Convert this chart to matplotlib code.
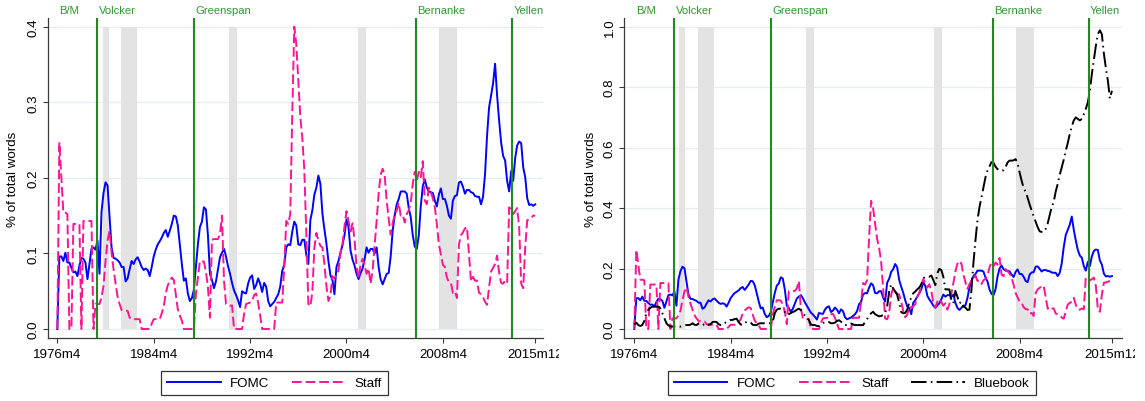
import numpy as np
import matplotlib
matplotlib.use("Agg")
import matplotlib.pyplot as plt
from matplotlib.lines import Line2D
from matplotlib.transforms import Bbox, TransformedBbox

plt.rcParams['font.family'] = ['Liberation Sans', 'DejaVu Sans']

# ---------------- data (Stata monthly dates, sampled every 2 months) ----------------
first_month, last_month, sample_step = "1976m4", "2015m12", 2

fomc_left = [
    0.000, 0.096, 0.096, 0.090, 0.101, 0.088, 0.088, 0.081, 0.075, 0.076,
    0.070, 0.084, 0.094, 0.093, 0.088, 0.066, 0.086, 0.106, 0.108, 0.105,
    0.117, 0.073, 0.155, 0.180, 0.194, 0.190, 0.148, 0.108, 0.094, 0.093,
    0.091, 0.088, 0.082, 0.082, 0.063, 0.067, 0.079, 0.090, 0.086, 0.092,
    0.095, 0.089, 0.082, 0.078, 0.080, 0.078, 0.070, 0.082, 0.096, 0.105,
    0.112, 0.116, 0.121, 0.127, 0.131, 0.122, 0.130, 0.139, 0.150, 0.149,
    0.137, 0.112, 0.086, 0.064, 0.067, 0.047, 0.037, 0.041, 0.052, 0.082,
    0.112, 0.135, 0.142, 0.161, 0.158, 0.124, 0.073, 0.065, 0.054, 0.063,
    0.079, 0.095, 0.101, 0.106, 0.096, 0.083, 0.073, 0.061, 0.051, 0.045,
    0.038, 0.029, 0.050, 0.048, 0.047, 0.060, 0.068, 0.071, 0.053, 0.058,
    0.067, 0.060, 0.049, 0.061, 0.056, 0.037, 0.030, 0.033, 0.036, 0.041,
    0.046, 0.056, 0.077, 0.085, 0.108, 0.112, 0.111, 0.129, 0.142, 0.137,
    0.112, 0.111, 0.118, 0.118, 0.098, 0.086, 0.144, 0.157, 0.178, 0.187,
    0.203, 0.192, 0.153, 0.132, 0.113, 0.090, 0.071, 0.065, 0.046, 0.082,
    0.090, 0.101, 0.111, 0.124, 0.145, 0.135, 0.104, 0.092, 0.084, 0.073,
    0.066, 0.074, 0.080, 0.092, 0.108, 0.101, 0.106, 0.106, 0.100, 0.108,
    0.082, 0.066, 0.059, 0.066, 0.073, 0.074, 0.096, 0.130, 0.150, 0.165,
    0.172, 0.182, 0.182, 0.182, 0.179, 0.160, 0.148, 0.124, 0.109, 0.106,
    0.124, 0.163, 0.189, 0.198, 0.187, 0.182, 0.181, 0.180, 0.170, 0.162,
    0.178, 0.186, 0.172, 0.172, 0.163, 0.150, 0.146, 0.170, 0.176, 0.177,
    0.194, 0.195, 0.188, 0.179, 0.184, 0.184, 0.181, 0.180, 0.176, 0.175,
    0.175, 0.165, 0.175, 0.205, 0.256, 0.293, 0.309, 0.325, 0.351, 0.309,
    0.276, 0.247, 0.229, 0.223, 0.196, 0.182, 0.209, 0.196, 0.226, 0.243,
    0.248, 0.246, 0.214, 0.201, 0.173, 0.164, 0.165, 0.163, 0.165,
]

staff_left = [
    0.000, 0.247, 0.200, 0.154, 0.154, 0.152, 0.000, 0.000, 0.139, 0.139,
    0.139, 0.139, 0.000, 0.143, 0.143, 0.143, 0.143, 0.143, 0.000, 0.033,
    0.033, 0.033, 0.042, 0.057, 0.090, 0.117, 0.130, 0.101, 0.079, 0.060,
    0.043, 0.033, 0.025, 0.024, 0.024, 0.024, 0.015, 0.013, 0.013, 0.013,
    0.013, 0.013, 0.000, 0.000, 0.000, 0.000, 0.000, 0.007, 0.013, 0.013,
    0.013, 0.013, 0.021, 0.030, 0.047, 0.058, 0.063, 0.068, 0.065, 0.045,
    0.026, 0.018, 0.011, 0.000, 0.000, 0.000, 0.000, 0.000, 0.000, 0.046,
    0.068, 0.090, 0.090, 0.089, 0.076, 0.055, 0.015, 0.118, 0.119, 0.119,
    0.119, 0.126, 0.150, 0.064, 0.033, 0.032, 0.031, 0.031, 0.000, 0.000,
    0.000, 0.000, 0.000, 0.020, 0.033, 0.034, 0.035, 0.037, 0.045, 0.047,
    0.035, 0.018, 0.000, 0.000, 0.000, 0.000, 0.000, 0.000, 0.000, 0.035,
    0.035, 0.035, 0.035, 0.082, 0.143, 0.139, 0.152, 0.285, 0.400, 0.377,
    0.329, 0.281, 0.253, 0.210, 0.126, 0.033, 0.030, 0.049, 0.107, 0.127,
    0.117, 0.110, 0.108, 0.086, 0.057, 0.037, 0.044, 0.070, 0.067, 0.071,
    0.077, 0.101, 0.112, 0.136, 0.156, 0.143, 0.129, 0.140, 0.119, 0.082,
    0.067, 0.085, 0.093, 0.085, 0.073, 0.080, 0.060, 0.077, 0.110, 0.143,
    0.179, 0.204, 0.212, 0.204, 0.170, 0.146, 0.125, 0.140, 0.151, 0.157,
    0.167, 0.150, 0.151, 0.141, 0.152, 0.157, 0.167, 0.192, 0.208, 0.196,
    0.208, 0.201, 0.222, 0.170, 0.165, 0.187, 0.181, 0.173, 0.161, 0.139,
    0.112, 0.099, 0.085, 0.082, 0.068, 0.062, 0.061, 0.048, 0.050, 0.041,
    0.112, 0.124, 0.128, 0.133, 0.135, 0.099, 0.063, 0.069, 0.064, 0.064,
    0.048, 0.046, 0.042, 0.036, 0.032, 0.055, 0.076, 0.081, 0.086, 0.097,
    0.075, 0.061, 0.060, 0.064, 0.061, 0.161, 0.158, 0.152, 0.156, 0.160,
    0.135, 0.060, 0.054, 0.108, 0.144, 0.145, 0.147, 0.150, 0.150,
]

fomc_right = [
    0.000, 0.102, 0.102, 0.095, 0.107, 0.093, 0.093, 0.086, 0.080, 0.081,
    0.074, 0.089, 0.100, 0.099, 0.093, 0.070, 0.091, 0.112, 0.114, 0.111,
    0.124, 0.077, 0.164, 0.191, 0.206, 0.201, 0.157, 0.114, 0.100, 0.099,
    0.096, 0.093, 0.087, 0.087, 0.067, 0.071, 0.084, 0.095, 0.091, 0.098,
    0.101, 0.094, 0.087, 0.083, 0.085, 0.083, 0.074, 0.087, 0.102, 0.111,
    0.119, 0.123, 0.128, 0.135, 0.139, 0.129, 0.138, 0.147, 0.159, 0.158,
    0.145, 0.119, 0.091, 0.068, 0.071, 0.050, 0.039, 0.043, 0.055, 0.087,
    0.119, 0.143, 0.151, 0.171, 0.167, 0.131, 0.077, 0.069, 0.057, 0.067,
    0.084, 0.101, 0.107, 0.112, 0.102, 0.088, 0.077, 0.065, 0.054, 0.048,
    0.040, 0.031, 0.053, 0.051, 0.050, 0.064, 0.072, 0.075, 0.056, 0.061,
    0.071, 0.064, 0.052, 0.065, 0.059, 0.039, 0.032, 0.035, 0.038, 0.043,
    0.049, 0.059, 0.082, 0.090, 0.114, 0.119, 0.118, 0.137, 0.151, 0.145,
    0.119, 0.118, 0.125, 0.125, 0.104, 0.091, 0.153, 0.166, 0.189, 0.198,
    0.215, 0.204, 0.162, 0.140, 0.120, 0.095, 0.075, 0.069, 0.049, 0.087,
    0.095, 0.107, 0.118, 0.131, 0.154, 0.143, 0.110, 0.098, 0.089, 0.077,
    0.070, 0.078, 0.085, 0.098, 0.114, 0.107, 0.112, 0.112, 0.106, 0.114,
    0.087, 0.070, 0.063, 0.070, 0.077, 0.078, 0.102, 0.138, 0.159, 0.175,
    0.182, 0.193, 0.193, 0.193, 0.190, 0.170, 0.157, 0.131, 0.116, 0.112,
    0.131, 0.173, 0.200, 0.210, 0.198, 0.193, 0.192, 0.191, 0.180, 0.172,
    0.189, 0.197, 0.182, 0.182, 0.173, 0.159, 0.155, 0.180, 0.187, 0.188,
    0.206, 0.207, 0.199, 0.190, 0.195, 0.195, 0.192, 0.191, 0.187, 0.186,
    0.186, 0.175, 0.186, 0.217, 0.271, 0.311, 0.328, 0.345, 0.372, 0.328,
    0.293, 0.262, 0.243, 0.236, 0.208, 0.193, 0.222, 0.208, 0.240, 0.258,
    0.263, 0.261, 0.227, 0.213, 0.183, 0.174, 0.175, 0.173, 0.175,
]

staff_right = [
    0.000, 0.262, 0.212, 0.163, 0.163, 0.161, 0.000, 0.000, 0.147, 0.147,
    0.147, 0.147, 0.000, 0.152, 0.152, 0.152, 0.152, 0.152, 0.000, 0.035,
    0.035, 0.035, 0.045, 0.060, 0.095, 0.124, 0.138, 0.107, 0.084, 0.064,
    0.046, 0.035, 0.027, 0.025, 0.025, 0.025, 0.016, 0.014, 0.014, 0.014,
    0.014, 0.014, 0.000, 0.000, 0.000, 0.000, 0.000, 0.007, 0.014, 0.014,
    0.014, 0.014, 0.022, 0.032, 0.050, 0.061, 0.067, 0.072, 0.069, 0.048,
    0.028, 0.019, 0.012, 0.000, 0.000, 0.000, 0.000, 0.000, 0.000, 0.049,
    0.072, 0.095, 0.095, 0.094, 0.081, 0.058, 0.016, 0.125, 0.126, 0.126,
    0.126, 0.134, 0.159, 0.068, 0.035, 0.034, 0.033, 0.033, 0.000, 0.000,
    0.000, 0.000, 0.000, 0.021, 0.035, 0.036, 0.037, 0.039, 0.048, 0.050,
    0.037, 0.019, 0.000, 0.000, 0.000, 0.000, 0.000, 0.000, 0.000, 0.037,
    0.037, 0.037, 0.037, 0.087, 0.152, 0.147, 0.161, 0.302, 0.424, 0.400,
    0.349, 0.298, 0.268, 0.223, 0.134, 0.035, 0.032, 0.052, 0.113, 0.135,
    0.124, 0.117, 0.114, 0.091, 0.060, 0.039, 0.047, 0.074, 0.071, 0.075,
    0.082, 0.107, 0.119, 0.144, 0.165, 0.152, 0.137, 0.148, 0.126, 0.087,
    0.071, 0.090, 0.099, 0.090, 0.077, 0.085, 0.064, 0.082, 0.117, 0.152,
    0.190, 0.216, 0.225, 0.216, 0.180, 0.155, 0.133, 0.148, 0.160, 0.166,
    0.177, 0.159, 0.160, 0.149, 0.161, 0.166, 0.177, 0.204, 0.220, 0.208,
    0.220, 0.213, 0.235, 0.180, 0.175, 0.198, 0.192, 0.183, 0.171, 0.147,
    0.119, 0.105, 0.090, 0.087, 0.072, 0.066, 0.065, 0.051, 0.053, 0.043,
    0.119, 0.131, 0.136, 0.141, 0.143, 0.105, 0.067, 0.073, 0.068, 0.068,
    0.051, 0.049, 0.045, 0.038, 0.034, 0.058, 0.081, 0.086, 0.091, 0.103,
    0.080, 0.065, 0.064, 0.068, 0.065, 0.171, 0.167, 0.161, 0.165, 0.170,
    0.143, 0.064, 0.057, 0.114, 0.153, 0.154, 0.156, 0.159, 0.159,
]

bluebook = [
    0.015, 0.021, 0.013, 0.010, 0.013, 0.027, 0.052, 0.064, 0.070, 0.074,
    0.074, 0.074, 0.074, 0.068, 0.052, 0.035, 0.019, 0.012, 0.008, 0.008,
    0.008, 0.008, 0.008, 0.008, 0.010, 0.012, 0.013, 0.013, 0.014, 0.019,
    0.014, 0.013, 0.018, 0.019, 0.013, 0.016, 0.019, 0.014, 0.016, 0.023,
    0.024, 0.023, 0.016, 0.013, 0.013, 0.019, 0.024, 0.027, 0.030, 0.030,
    0.033, 0.034, 0.023, 0.015, 0.013, 0.019, 0.024, 0.024, 0.021, 0.014,
    0.013, 0.013, 0.018, 0.019, 0.019, 0.019, 0.019, 0.019, 0.019, 0.024,
    0.052, 0.064, 0.067, 0.067, 0.064, 0.056, 0.047, 0.049, 0.053, 0.056,
    0.059, 0.064, 0.067, 0.063, 0.052, 0.045, 0.038, 0.029, 0.015, 0.013,
    0.013, 0.010, 0.010, 0.013, 0.019, 0.024, 0.024, 0.023, 0.019, 0.019,
    0.021, 0.027, 0.029, 0.024, 0.021, 0.013, 0.013, 0.014, 0.018, 0.015,
    0.013, 0.013, 0.013, 0.013, 0.013, 0.023, 0.033, 0.043, 0.052, 0.057,
    0.049, 0.045, 0.042, 0.043, 0.046, 0.052, 0.074, 0.123, 0.148, 0.134,
    0.124, 0.113, 0.087, 0.056, 0.052, 0.053, 0.064, 0.087, 0.104, 0.118,
    0.124, 0.131, 0.137, 0.148, 0.167, 0.173, 0.173, 0.173, 0.177, 0.162,
    0.145, 0.184, 0.199, 0.195, 0.173, 0.131, 0.131, 0.131, 0.096, 0.085,
    0.126, 0.107, 0.085, 0.090, 0.074, 0.071, 0.063, 0.064, 0.129, 0.219,
    0.293, 0.359, 0.403, 0.436, 0.469, 0.502, 0.525, 0.538, 0.552, 0.550,
    0.537, 0.529, 0.524, 0.524, 0.525, 0.535, 0.551, 0.557, 0.557, 0.558,
    0.562, 0.548, 0.518, 0.491, 0.467, 0.454, 0.434, 0.412, 0.392, 0.373,
    0.355, 0.337, 0.323, 0.321, 0.321, 0.331, 0.349, 0.377, 0.403, 0.420,
    0.455, 0.480, 0.510, 0.535, 0.560, 0.590, 0.615, 0.645, 0.670, 0.690,
    0.700, 0.695, 0.690, 0.695, 0.710, 0.728, 0.750, 0.786, 0.843, 0.889,
    0.937, 0.975, 0.988, 0.975, 0.911, 0.863, 0.821, 0.762, 0.788,
]

chair_names = ["B/M", "Volcker", "Greenspan", "Bernanke", "Yellen"]
chair_start = ["1976m4", "1979m8", "1987m8", "2006m1", "2014m1"]

recession_start = ["1980m1", "1981m7", "1990m7", "2001m3", "2007m12"]
recession_end = ["1980m7", "1982m11", "1991m3", "2001m11", "2009m6"]

xtick_labels = ["1976m4", "1984m4", "1992m4", "2000m4", "2008m4", "2015m12"]
yticks_left = [0.0, 0.1, 0.2, 0.3, 0.4]
yticks_right = [0.0, 0.2, 0.4, 0.6, 0.8, 1.0]


def stata_month(s):
    y, m = s.split("m")
    return (int(y) - 1960) * 12 + int(m) - 1


def to_year(s):
    return 1960 + stata_month(s) / 12.0


months = np.arange(stata_month(first_month), stata_month(last_month) + 1, sample_step)
years = 1960 + months / 12.0

# ---------------- styling ----------------
W, H = 1145, 402
BLUE = "#0000ff"
PINK = "#ff1493"
GREEN = "#1f8a1f"
GREEN_TXT = "#2e9a2e"
SHADE = "#e3e3e3"
GRID = "#e6eef0"
AXC = "#3a3a3a"
FS = 9.6

fig = plt.figure(figsize=(W / 100, H / 100), dpi=100)
fig.patch.set_facecolor("white")


def px_axes(x0, x1, ytop, ybot):
    return fig.add_axes([x0 / W, 1 - ybot / H, (x1 - x0) / W, (ybot - ytop) / H])


axL = px_axes(47.7, 543, 19, 339)
axR = px_axes(624.3, 1121.7, 19, 339)


def style_axis(ax, yticks, ylim, xlim, clip_right_px):
    ax.set_xlim(*xlim)
    ax.set_ylim(*ylim)
    ax.set_yticks(yticks)
    ax.set_yticklabels([f"{v:.1f}" for v in yticks])
    ax.set_xticks([to_year(s) for s in xtick_labels])
    ax.set_xticklabels(xtick_labels)
    for side in ("top", "right"):
        ax.spines[side].set_visible(False)
    for side in ("left", "bottom"):
        ax.spines[side].set_color(AXC)
        ax.spines[side].set_linewidth(0.9)
    ax.tick_params(axis="both", direction="out", length=3.6, width=0.8,
                   color=AXC, labelsize=FS, labelcolor="black")
    ax.tick_params(axis="y", pad=2.5)
    ax.tick_params(axis="x", pad=3.5)
    for lbl in ax.get_yticklabels():
        lbl.set_rotation(90)
        lbl.set_va("center")
    ax.grid(axis="y", color=GRID, lw=1.0, zorder=0)
    ax.set_axisbelow(True)
    ax.set_ylabel("% of total words", fontsize=FS)
    # clip last tick label at the panel edge
    clipbox = TransformedBbox(Bbox([[0, 0], [clip_right_px / W, 1]]), fig.transFigure)
    ticks = ax.xaxis.get_major_ticks()
    ticks[-1].label1.set_clip_box(clipbox)
    ticks[-1].label1.set_clip_on(True)


def decorate(ax, ytop):
    for s, e in zip(recession_start, recession_end):
        ax.fill_betweenx([0, ytop], to_year(s), to_year(e), color=SHADE, lw=0, zorder=1)
    for i, (name, d) in enumerate(zip(chair_names, chair_start)):
        x = to_year(d)
        if i > 0:
            ax.axvline(x, color=GREEN, lw=1.5, zorder=5)
        ax.annotate(name, xy=(x, 1), xycoords=("data", "axes fraction"),
                    xytext=(1.0, 5.5), textcoords="offset points",
                    ha="left", va="center", color=GREEN_TXT, fontsize=8.1,
                    annotation_clip=False)


style_axis(axL, yticks_left, (-0.0119, 0.4115), (1975.45, 2016.56), 559)
style_axis(axR, yticks_right, (-0.0298, 1.0288), (1975.42, 2016.73), 1135)
axL.yaxis.set_label_coords(-0.058, 0.5)
axR.yaxis.set_label_coords(-0.055, 0.5)

decorate(axL, 0.4)
decorate(axR, 1.0)

lw = 1.4
axL.plot(years, fomc_left, color=BLUE, lw=lw, zorder=3)
axL.plot(years, staff_left, color=PINK, lw=lw, dashes=(5, 2), zorder=3)

axR.plot(years, fomc_right, color=BLUE, lw=lw, zorder=3)
axR.plot(years, staff_right, color=PINK, lw=lw, dashes=(5, 2), zorder=3)
axR.plot(years, bluebook, color="black", lw=lw, dashes=(8, 2.2, 0.8, 2.2), zorder=4)

h_fomc = Line2D([], [], color=BLUE, lw=lw)
h_staff = Line2D([], [], color=PINK, lw=lw, dashes=(5, 2))
h_blue = Line2D([], [], color="black", lw=lw, dashes=(8, 2.2, 0.8, 2.2))

leg_kw = dict(loc="center", frameon=True, fancybox=False, fontsize=FS,
              handlelength=4.0, handletextpad=0.7, columnspacing=1.7,
              borderpad=0.45, edgecolor="#333333", framealpha=1)
legL = fig.legend([h_fomc, h_staff], ["FOMC", "Staff"], ncol=2,
                  bbox_to_anchor=(274.7 / W, 1 - 384.3 / H), **leg_kw)
legR = fig.legend([h_fomc, h_staff, h_blue], ["FOMC", "Staff", "Bluebook"], ncol=3,
                  bbox_to_anchor=(851.8 / W, 1 - 384.3 / H), **leg_kw)
for lg in (legL, legR):
    lg.get_frame().set_linewidth(0.9)

fig.savefig("out.png", dpi=100, facecolor="white")
